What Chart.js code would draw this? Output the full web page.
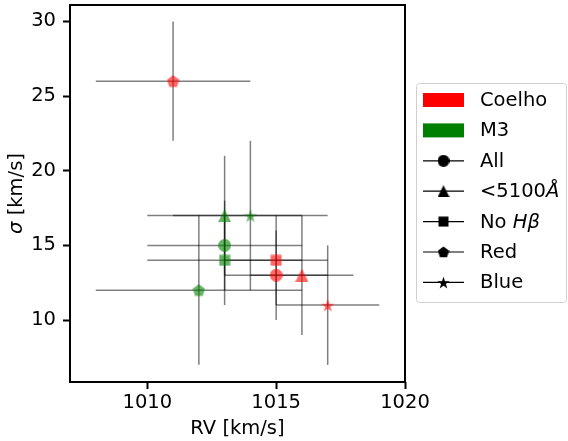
<!DOCTYPE html>
<html>
<head>
<meta charset="utf-8">
<script src="https://cdn.jsdelivr.net/npm/chart.js@4.4.0/dist/chart.umd.min.js"></script>
<style>
  html, body { margin: 0; padding: 0; background: #fff; }
</style>
</head>
<body>
<canvas id="chart" width="568" height="441"></canvas>
<script>
// values
const categories = ["All", "<5100Å", "No Hβ", "Red", "Blue"];
const shapes = ["circle", "triangle", "square", "pentagon", "star"];

const coelhoRV = [1015, 1016, 1015, 1011, 1017];
const coelhoRVErr = [2, 2, 2, 3, 2];
const coelhoSigma = [13, 13, 14, 26, 11];
const coelhoSigmaErr = [3, 4, 3, 4, 4];

const m3RV = [1013, 1013, 1013, 1012, 1014];
const m3RVErr = [3, 3, 3, 4, 3];
const m3Sigma = [15, 17, 14, 12, 17];
const m3SigmaErr = [3, 4, 3, 5, 5];

const xTicks = [1010, 1015, 1020];
const yTicks = [10, 15, 20, 25, 30];

const FONT = "DejaVu Sans";
const FS = 19.5;
const red = "rgba(255,0,0,0.6)";
const green = "rgba(0,128,0,0.6)";

function makeMarker(shape, fill, size) {
  const c = document.createElement("canvas");
  c.width = size;
  c.height = size;
  const ctx = c.getContext("2d");
  const r = size / 2;
  ctx.fillStyle = fill;
  ctx.beginPath();
  if (shape === "circle") {
    ctx.arc(r, r, r, 0, Math.PI * 2);
  } else if (shape === "square") {
    ctx.rect(0.5, 0.5, size - 1, size - 1);
  } else if (shape === "triangle") {
    ctx.moveTo(r, 0);
    ctx.lineTo(size, size);
    ctx.lineTo(0, size);
  } else if (shape === "pentagon") {
    for (let i = 0; i < 5; i++) {
      const a = -Math.PI / 2 + i * 2 * Math.PI / 5;
      ctx.lineTo(r + r * Math.cos(a), r + 0.5 + r * Math.sin(a));
    }
  } else if (shape === "star") {
    for (let i = 0; i < 10; i++) {
      const a = -Math.PI / 2 + i * Math.PI / 5;
      const rr = i % 2 === 0 ? r : r * 0.382;
      ctx.lineTo(r + rr * Math.cos(a), r + 0.8 + rr * Math.sin(a));
    }
  }
  ctx.closePath();
  ctx.fill();
  return c;
}

const sizes = { circle: 13, triangle: 13, square: 12, pentagon: 13, star: 14 };
const redMarkers = shapes.map(s => makeMarker(s, red, sizes[s]));
const greenMarkers = shapes.map(s => makeMarker(s, green, sizes[s]));
const blackMarkers = shapes.map(s => makeMarker(s, "#000", sizes[s] - 1));

function points(rv, rvErr, sig, sigErr) {
  return rv.map((v, i) => ({ x: v, y: sig[i], xErr: rvErr[i], yErr: sigErr[i] }));
}

const errorBars = {
  id: "errorBars",
  beforeDatasetsDraw(chart) {
    const { ctx, scales: { x, y } } = chart;
    ctx.save();
    ctx.strokeStyle = "rgba(0,0,0,0.5)";
    ctx.lineWidth = 1.5;
    chart.data.datasets.forEach(ds => {
      ds.data.forEach(p => {
        const px = x.getPixelForValue(p.x);
        const py = y.getPixelForValue(p.y);
        ctx.beginPath();
        ctx.moveTo(x.getPixelForValue(p.x - p.xErr), py);
        ctx.lineTo(x.getPixelForValue(p.x + p.xErr), py);
        ctx.stroke();
        ctx.beginPath();
        ctx.moveTo(px, y.getPixelForValue(p.y - p.yErr));
        ctx.lineTo(px, y.getPixelForValue(p.y + p.yErr));
        ctx.stroke();
      });
    });
    ctx.restore();
  }
};

const frame = {
  id: "frame",
  afterDraw(chart) {
    const { ctx, chartArea: a } = chart;
    ctx.save();
    ctx.strokeStyle = "#000";
    ctx.lineWidth = 2;
    ctx.strokeRect(a.left, a.top, a.right - a.left, a.bottom - a.top);

    // y axis title with italic sigma
    ctx.fillStyle = "#000";
    ctx.translate(17, (a.top + a.bottom) / 2);
    ctx.rotate(-Math.PI / 2);
    ctx.textBaseline = "middle";
    ctx.font = "italic " + FS + "px " + FONT;
    const w1 = ctx.measureText("σ").width;
    ctx.font = FS + "px " + FONT;
    const w2 = ctx.measureText(" [km/s]").width;
    let tx = -(w1 + w2) / 2;
    ctx.font = "italic " + FS + "px " + FONT;
    ctx.fillText("σ", tx, 0);
    ctx.font = FS + "px " + FONT;
    ctx.fillText(" [km/s]", tx + w1, 0);
    ctx.restore();
  }
};

function drawMixed(ctx, parts, x, y) {
  parts.forEach(([txt, italic]) => {
    ctx.font = (italic ? "italic " : "") + FS + "px " + FONT;
    ctx.fillText(txt, x, y);
    x += ctx.measureText(txt).width;
  });
}

const boxLegend = {
  id: "boxLegend",
  afterDraw(chart) {
    const ctx = chart.ctx;
    const left = 416.5, top = 83.5, w = 150, h = 219;
    ctx.save();
    ctx.beginPath();
    ctx.roundRect(left, top, w, h, 3);
    ctx.fillStyle = "rgba(255,255,255,0.8)";
    ctx.fill();
    ctx.strokeStyle = "#d0d0d0";
    ctx.lineWidth = 1;
    ctx.stroke();

    const rowY = i => 100 + i * 30.4;
    ctx.textBaseline = "middle";
    ctx.fillStyle = "#000";
    // series patches
    [["Coelho", "#ff0000"], ["M3", "#008000"]].forEach(([name, col], i) => {
      ctx.fillStyle = col;
      ctx.fillRect(423, rowY(i) - 7, 41, 14);
      ctx.fillStyle = "#000";
      ctx.font = FS + "px " + FONT;
      ctx.fillText(name, 480, rowY(i) + 1);
    });
    const labels = [
      [["All", false]],
      [["<5100", false], ["Å", true]],
      [["No ", false], ["Hβ", true]],
      [["Red", false]],
      [["Blue", false]]
    ];
    categories.forEach((c, i) => {
      const yy = rowY(i + 2);
      ctx.strokeStyle = "#000";
      ctx.lineWidth = 1.2;
      ctx.beginPath();
      ctx.moveTo(423, yy);
      ctx.lineTo(464, yy);
      ctx.stroke();
      const m = blackMarkers[i];
      ctx.drawImage(m, 443.5 - m.width / 2, yy - m.height / 2);
      ctx.fillStyle = "#000";
      drawMixed(ctx, labels[i], 480, yy + 1);
    });
    ctx.restore();
  }
};

const tickFont = { family: FONT, size: FS };

new Chart(document.getElementById("chart"), {
  type: "scatter",
  data: {
    datasets: [
      {
        label: "Coelho",
        data: points(coelhoRV, coelhoRVErr, coelhoSigma, coelhoSigmaErr),
        pointStyle: ctx => redMarkers[ctx.dataIndex],
        backgroundColor: red
      },
      {
        label: "M3",
        data: points(m3RV, m3RVErr, m3Sigma, m3SigmaErr),
        pointStyle: ctx => greenMarkers[ctx.dataIndex],
        backgroundColor: green
      }
    ]
  },
  options: {
    responsive: false,
    animation: false,
    layout: { padding: { left: 0, top: 5, right: 163, bottom: 0 } },
    plugins: {
      legend: { display: false },
      tooltip: { enabled: false }
    },
    scales: {
      x: {
        type: "linear",
        min: 1007,
        max: 1020,
        afterBuildTicks: s => { s.ticks = xTicks.map(v => ({ value: v })); },
        afterFit: s => { s.height = 59; s.paddingLeft = 0; s.paddingRight = 0; },
        border: { display: false },
        grid: { drawOnChartArea: false, drawTicks: true, tickLength: 7, tickWidth: 2, tickColor: "#000" },
        ticks: { color: "#000", font: tickFont, padding: 2, maxRotation: 0, callback: v => String(v) },
        title: { display: true, text: "RV [km/s]", color: "#000", font: tickFont, padding: { top: 0, bottom: 0 } }
      },
      y: {
        type: "linear",
        min: 5.85,
        max: 31.1,
        afterBuildTicks: s => { s.ticks = yTicks.map(v => ({ value: v })); },
        afterFit: s => { s.width = 70; s.paddingTop = 0; s.paddingBottom = 0; },
        border: { display: false },
        grid: { drawOnChartArea: false, drawTicks: true, tickLength: 7, tickWidth: 2, tickColor: "#000" },
        ticks: { color: "#000", font: tickFont, padding: 7, callback: v => String(v) }
      }
    }
  },
  plugins: [errorBars, frame, boxLegend]
});
</script>
</body>
</html>
